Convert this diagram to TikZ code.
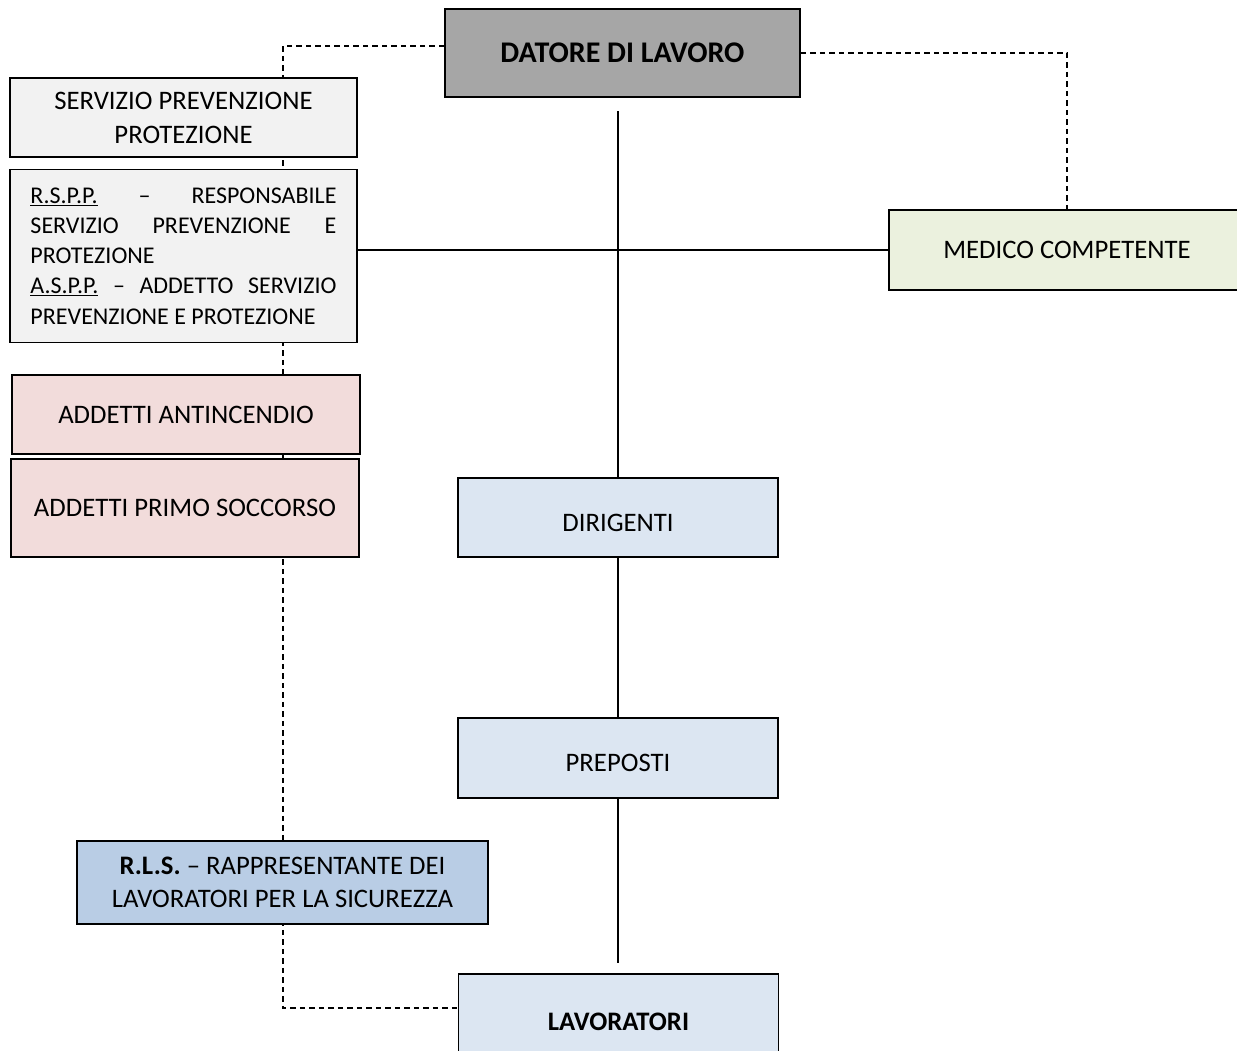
\documentclass[tikz,border=0pt]{standalone}
\usepackage{fontspec}
\setmainfont{Carlito}
\usetikzlibrary{backgrounds}
\definecolor{datfill}{HTML}{A6A6A6}
\definecolor{sppfill}{HTML}{F2F2F2}
\definecolor{medfill}{HTML}{EBF1DE}
\definecolor{addfill}{HTML}{F2DCDB}
\definecolor{orgfill}{HTML}{DCE6F2}
\definecolor{rlsfill}{HTML}{B9CDE5}
\begin{document}
\begin{tikzpicture}[x=1pt,y=-1pt,
  box/.style={draw=black,line width=1.8pt,inner sep=0pt,align=center,
    font=\fontsize{26.7}{34}\selectfont},
  lowtext/.style={text height=27pt,text depth=0pt},
  solidline/.style={draw=black,line width=1.7pt},
  dashline/.style={draw=black,line width=1.5pt,dash pattern=on 5.5pt off 4pt}]
\useasboundingbox (0,0) rectangle (1237,1050);
\node[box,fill=datfill,minimum width=355pt,minimum height=88pt,
  font=\fontsize{30}{36}\selectfont\bfseries] (dat) at (622.5,53) {DATORE DI LAVORO};
\node[box,fill=sppfill,minimum width=347pt,minimum height=79pt] (spp) at (183.5,117.5) {SERVIZIO PREVENZIONE\\PROTEZIONE};
\node[box,fill=sppfill,minimum width=347pt,minimum height=173pt,align=left,
  font=\fontsize{24}{30.2}\selectfont] (rspp) at (183.5,256) {%
  \makebox[306pt][s]{\underline{R.S.P.P.} \ – \ RESPONSABILE}\\
  \makebox[306pt][s]{SERVIZIO PREVENZIONE E}\\
  PROTEZIONE\\
  \makebox[306pt][s]{\underline{A.S.P.P.} – ADDETTO SERVIZIO}\\
  PREVENZIONE E PROTEZIONE};
\node[box,fill=medfill,minimum width=356pt,minimum height=80pt] (med) at (1067,250) {MEDICO COMPETENTE};
\node[box,fill=addfill,minimum width=348pt,minimum height=79pt] (anti) at (186,414.5) {ADDETTI ANTINCENDIO};
\node[box,fill=addfill,minimum width=348pt,minimum height=98pt] (primo) at (185,508) {ADDETTI PRIMO SOCCORSO};
\node[box,fill=orgfill,minimum width=320pt,minimum height=79pt,lowtext] (dir) at (618,517.5) {DIRIGENTI};
\node[box,fill=orgfill,minimum width=320pt,minimum height=80pt,lowtext] (pre) at (618,758) {PREPOSTI};
\node[box,fill=rlsfill,minimum width=411pt,minimum height=83pt,
  font=\fontsize{26.7}{33}\selectfont] (rls) at (282.5,882.5) {\textbf{R.L.S.} – RAPPRESENTANTE DEI\\LAVORATORI PER LA SICUREZZA};
\node[box,fill=orgfill,minimum width=320pt,minimum height=96pt,font=\fontsize{26.7}{34}\selectfont\bfseries] (lav) at (618.5,1022) {LAVORATORI};
\coordinate (ltop) at (283,46);
\coordinate (lbot) at (283,1008);
\coordinate (vtop) at (618,111);
\coordinate (vbot) at (618,963);
\begin{pgfonlayer}{background}
\draw[dashline] (dat.west |- ltop) -- (ltop) -- (lbot) -- (lav.west |- lbot);
\draw[dashline] (dat.east) -| (med.north);
\draw[solidline] (rspp.east |- med.west) -- (med.west);
\draw[solidline] (vtop) -- (dir.north);
\draw[solidline] (dir.south) -- (pre.north);
\draw[solidline] (pre.south) -- (vbot);
\end{pgfonlayer}
\end{tikzpicture}
\end{document}
